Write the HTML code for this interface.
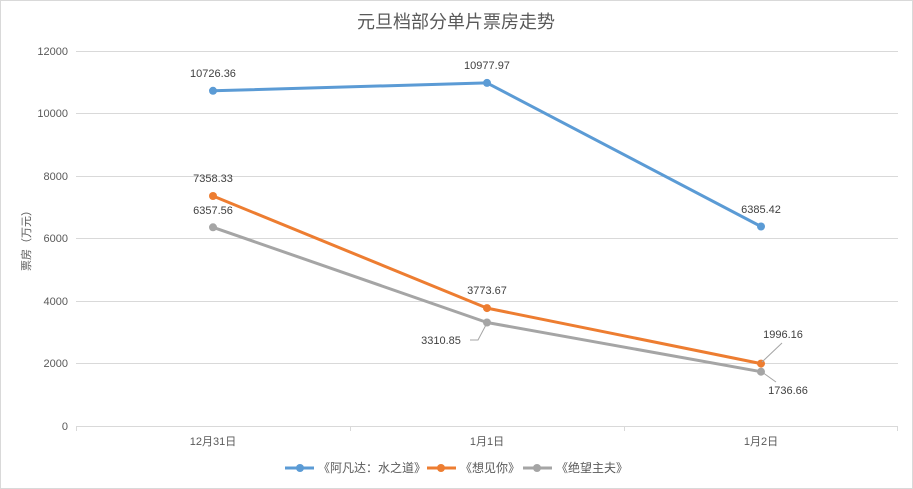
<!DOCTYPE html>
<html><head><meta charset="utf-8"><style>
body{margin:0;background:#fff;}
svg{display:block;font-family:"Liberation Sans","Noto Sans CJK SC",sans-serif;}
</style></head><body>
<svg width="913" height="489" viewBox="0 0 913 489">
<rect x="0.5" y="0.5" width="912" height="488" fill="#fff" stroke="#d9d9d9"/>
<text x="456" y="28" text-anchor="middle" font-size="18" fill="#595959">元旦档部分单片票房走势</text>
<g stroke="#d9d9d9" stroke-width="1">
<line x1="76" x2="898" y1="51.5" y2="51.5"/>
<line x1="76" x2="898" y1="113.5" y2="113.5"/>
<line x1="76" x2="898" y1="176.5" y2="176.5"/>
<line x1="76" x2="898" y1="238.5" y2="238.5"/>
<line x1="76" x2="898" y1="301.5" y2="301.5"/>
<line x1="76" x2="898" y1="363.5" y2="363.5"/>
<line x1="76" x2="898" y1="426.5" y2="426.5"/>
<line x1="76.5" x2="76.5" y1="426" y2="431"/>
<line x1="350.5" x2="350.5" y1="426" y2="431"/>
<line x1="624.5" x2="624.5" y1="426" y2="431"/>
<line x1="897.5" x2="897.5" y1="426" y2="431"/>
</g>
<g font-size="11" fill="#595959" text-anchor="end">
<text x="68" y="55">12000</text><text x="68" y="117">10000</text><text x="68" y="180">8000</text>
<text x="68" y="242">6000</text><text x="68" y="305">4000</text><text x="68" y="367">2000</text><text x="68" y="430">0</text>
</g>
<g font-size="11" fill="#595959" text-anchor="middle">
<text x="213" y="445">12月31日</text><text x="487" y="445">1月1日</text><text x="761" y="445">1月2日</text>
</g>
<text transform="translate(30,238) rotate(-90)" font-size="11" fill="#595959" text-anchor="middle">票房（万元）</text>
<g fill="none" stroke-width="3" stroke-linejoin="round">
<polyline stroke="#5b9bd5" points="213,90.8 487,82.9 761,226.5"/>
<polyline stroke="#a5a5a5" points="213,227.3 487,322.5 761,371.7"/>
<polyline stroke="#ed7d31" points="213,196 487,308.1 761,363.6"/>
</g>
<g fill="#5b9bd5"><circle cx="213" cy="90.8" r="4"/><circle cx="487" cy="82.9" r="4"/><circle cx="761" cy="226.5" r="4"/></g>
<g fill="#a5a5a5"><circle cx="213" cy="227.3" r="4"/><circle cx="487" cy="322.5" r="4"/><circle cx="761" cy="371.7" r="4"/></g>
<g fill="#ed7d31"><circle cx="213" cy="196" r="4"/><circle cx="487" cy="308.1" r="4"/><circle cx="761" cy="363.6" r="4"/></g>
<g stroke="#a5a5a5" fill="none" stroke-width="1">
<polyline points="470,340 478,340 487,323"/>
<polyline points="762,362 782,343"/>
<polyline points="762,372 776,382"/>
</g>
<g font-size="11" fill="#404040" text-anchor="middle">
<text x="213" y="77">10726.36</text><text x="487" y="69">10977.97</text><text x="761" y="213">6385.42</text>
<text x="213" y="182">7358.33</text><text x="213" y="214">6357.56</text>
<text x="487" y="294">3773.67</text><text x="441" y="344">3310.85</text>
<text x="783" y="338">1996.16</text><text x="788" y="394">1736.66</text>
</g>
<g font-size="12" fill="#595959">
<line x1="285" x2="314" y1="468" y2="468" stroke="#5b9bd5" stroke-width="3"/><circle cx="300" cy="468" r="4" fill="#5b9bd5"/>
<text x="318" y="472">《阿凡达：水之道》</text>
<line x1="427" x2="456" y1="468" y2="468" stroke="#ed7d31" stroke-width="3"/><circle cx="441" cy="468" r="4" fill="#ed7d31"/>
<text x="460" y="472">《想见你》</text>
<line x1="523" x2="552" y1="468" y2="468" stroke="#a5a5a5" stroke-width="3"/><circle cx="537" cy="468" r="4" fill="#a5a5a5"/>
<text x="556" y="472">《绝望主夫》</text>
</g>
</svg>
</body></html>
